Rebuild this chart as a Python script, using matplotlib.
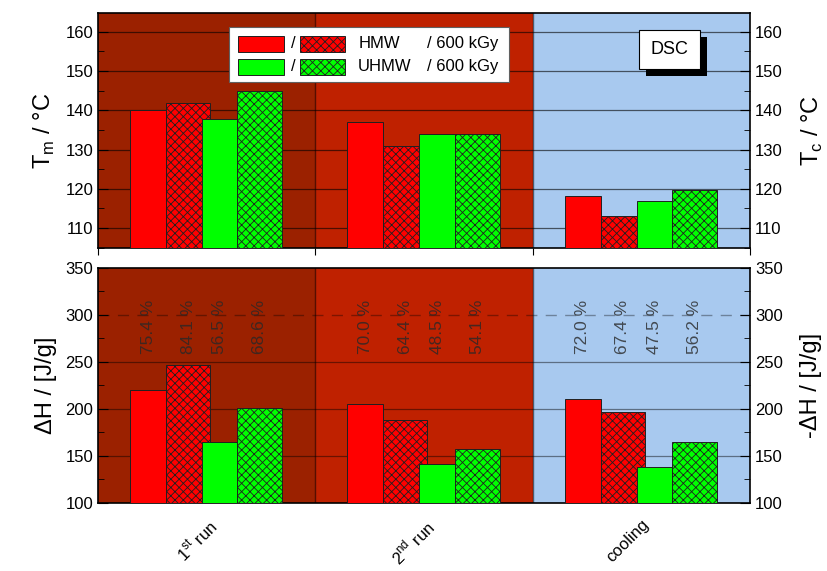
import matplotlib.pyplot as plt
from matplotlib.patches import Rectangle
from matplotlib.ticker import MultipleLocator
import numpy as np

plt.rcParams['font.family'] = ['Liberation Sans', 'DejaVu Sans']
plt.rcParams['hatch.linewidth'] = 0.6

# data
runs = ["1$^\\mathregular{st}$ run", "2$^\\mathregular{nd}$ run", "cooling"]
tm_hmw = [140.0, 137.0, 118.2]
tm_hmw_irr = [141.9, 130.9, 113.0]
tm_uhmw = [137.9, 133.9, 117.0]
tm_uhmw_irr = [144.8, 133.9, 119.8]

dh_hmw = [220.6, 205.3, 210.3]
dh_hmw_irr = [246.5, 188.0, 196.8]
dh_uhmw = [164.9, 141.5, 138.7]
dh_uhmw_irr = [200.7, 157.8, 165.2]

cryst_hmw = ["75.4 %", "70.0 %", "72.0 %"]
cryst_hmw_irr = ["84.1 %", "64.4 %", "67.4 %"]
cryst_uhmw = ["56.5 %", "48.5 %", "47.5 %"]
cryst_uhmw_irr = ["68.6 %", "54.1 %", "56.2 %"]

bg_colors = ["#9b2100", "#bf2100", "#a8c9ef"]
x = np.arange(1, 4)

# bar layout: (left edge offset, width, color, hatch)
bar_specs = [(-0.353, 0.166, "#ff0000", None),
             (-0.187, 0.203, "#ff0000", "xxxx"),
             (-0.021, 0.162, "#00ff00", None),
             (0.141, 0.207, "#00ff00", "xxxx")]

fig = plt.figure(figsize=(8.28, 5.71), dpi=100)
ax_top = fig.add_axes([0.1184, 0.5657, 0.7874, 0.4116])
ax_bot = fig.add_axes([0.1184, 0.1191, 0.7874, 0.4116])


def style_panel(ax, ylo, yhi, major, minor, ylabel, ylabel_r):
    ax.set_xlim(0.5, 3.5)
    ax.set_ylim(ylo, yhi)
    for i, c in enumerate(bg_colors):
        ax.axvspan(0.5 + i, 1.5 + i, color=c, zorder=0, lw=0)
    ax.axvline(1.5, color="#000000", lw=1.0, alpha=0.55, zorder=1)
    ax.axvline(2.5, color="#000000", lw=1.0, alpha=0.55, zorder=1)
    ax.yaxis.set_major_locator(MultipleLocator(major))
    ax.yaxis.set_minor_locator(MultipleLocator(minor))
    ax.tick_params(axis="y", which="both", direction="in", left=True, right=True,
                   labelleft=True, labelright=True, labelsize=12)
    ax.tick_params(axis="y", which="major", length=7)
    ax.tick_params(axis="y", which="minor", length=4)
    ax.set_ylabel(ylabel, fontsize=17, labelpad=6)
    ax2 = ax.secondary_yaxis("right")
    ax2.set_yticks([])
    ax2.spines["right"].set_visible(False)
    ax2.set_ylabel(ylabel_r, fontsize=17, labelpad=36)
    for s in ax.spines.values():
        s.set_linewidth(1.2)


def draw_bars(ax, series, bottom):
    for (off, w, c, h), vals in zip(bar_specs, series):
        ax.bar(x + off, np.array(vals) - bottom, width=w, bottom=bottom, align="edge",
               color=c, hatch=h, edgecolor="#202020", linewidth=0.7, zorder=3)


# top panel: melting / crystallisation temperatures
style_panel(ax_top, 104.9, 164.8, 10, 5, "T$_\\mathregular{m}$ / °C", "T$_\\mathregular{c}$ / °C")
ax_top.set_yticks([110, 120, 130, 140, 150, 160])
for yv in [110, 120, 130, 140, 150, 160]:
    ax_top.axhline(yv, color="#000000", lw=0.9, alpha=0.6, zorder=1)
draw_bars(ax_top, [tm_hmw, tm_hmw_irr, tm_uhmw, tm_uhmw_irr], 104.9)
ax_top.set_xticks([0.5, 1.5, 2.5, 3.5])
ax_top.tick_params(axis="x", direction="out", length=5, labelbottom=False)

# legend drawn by hand
ax_top.add_patch(Rectangle((0.2005, 0.705), 0.43, 0.235, transform=ax_top.transAxes,
                           facecolor="white", edgecolor="#606060", lw=0.8, zorder=5))
for row, (c, lab) in enumerate([("#ff0000", "HMW"), ("#00ff00", "UHMW")]):
    yb = 0.835 - row * 0.098
    ax_top.add_patch(Rectangle((0.214, yb), 0.071, 0.068, transform=ax_top.transAxes,
                               facecolor=c, edgecolor="#202020", lw=0.7, zorder=6))
    ax_top.text(0.299, yb + 0.034, "/", transform=ax_top.transAxes, fontsize=12,
                ha="center", va="center", zorder=7)
    ax_top.add_patch(Rectangle((0.310, yb), 0.069, 0.068, transform=ax_top.transAxes,
                               facecolor=c, hatch="xxxx", edgecolor="#202020", lw=0.7, zorder=6))
    ax_top.text(0.399, yb + 0.034, lab, transform=ax_top.transAxes, fontsize=12,
                ha="left", va="center", zorder=7)
    ax_top.text(0.505, yb + 0.034, "/ 600 kGy", transform=ax_top.transAxes, fontsize=12,
                ha="left", va="center", zorder=7)

# DSC label with drop shadow
ax_top.add_patch(Rectangle((0.8405, 0.7305), 0.094, 0.166, transform=ax_top.transAxes,
                           facecolor="black", lw=0, zorder=5))
ax_top.add_patch(Rectangle((0.8295, 0.7605), 0.094, 0.166, transform=ax_top.transAxes,
                           facecolor="white", edgecolor="black", lw=0.8, zorder=6))
ax_top.text(0.8765, 0.8435, "DSC", transform=ax_top.transAxes, fontsize=13,
            ha="center", va="center", zorder=7)

# bottom panel: enthalpies
style_panel(ax_bot, 100, 350, 50, 25, "ΔH / [J/g]", "-ΔH / [J/g]")
for yv in [150, 200, 250]:
    ax_bot.axhline(yv, color="#000000", lw=0.9, alpha=0.45, zorder=1)
ax_bot.axhline(300, color="#000000", lw=1.0, alpha=0.35, ls=(0, (8, 6)), zorder=1)
draw_bars(ax_bot, [dh_hmw, dh_hmw_irr, dh_uhmw, dh_uhmw_irr], 100)

for (off, w, c, h), labels in zip(bar_specs, [cryst_hmw, cryst_hmw_irr, cryst_uhmw, cryst_uhmw_irr]):
    for xi, lab in zip(x, labels):
        ax_bot.text(xi + off + w / 2, 259, lab, rotation=90, ha="center", va="bottom",
                    fontsize=12.5, color="#282828", alpha=0.8, zorder=4)

ax_bot.set_xticks(x)
ax_bot.set_xticklabels(runs, rotation=45, ha="right", rotation_mode="anchor", fontsize=12)
ax_bot.tick_params(axis="x", length=0, pad=10)

fig.savefig("out.png", dpi=100)
